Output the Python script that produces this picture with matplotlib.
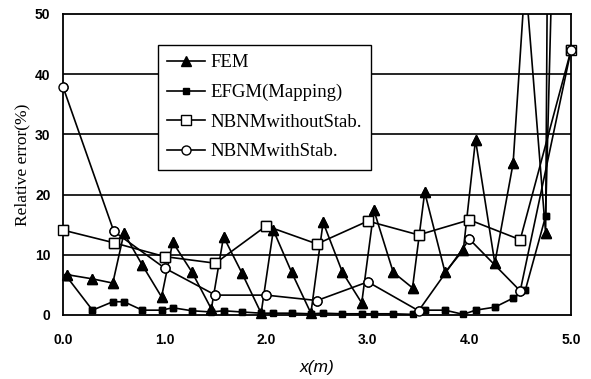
import numpy as np
import matplotlib
matplotlib.use('Agg')
import matplotlib.pyplot as plt


# Data: relative error (%) along x (m)
x_fine = [0.04, 0.29, 0.49, 0.60, 0.78, 0.97, 1.08, 1.27, 1.46, 1.58,
          1.76, 1.95, 2.07, 2.25, 2.44, 2.56, 2.75, 2.94, 3.06, 3.25,
          3.44, 3.56, 3.76, 3.94, 4.06, 4.25, 4.43, 4.55, 4.75]
fem = [6.7, 6.0, 5.3, 13.6, 8.3, 3.0, 12.1, 7.1, 1.0, 13.0,
       7.0, 0.3, 14.1, 7.1, 0.3, 15.4, 7.1, 2.0, 17.4, 7.1,
       4.5, 20.4, 7.1, 10.8, 29.1, 8.6, 25.2, 56.0, 13.6]
efgm = [6.3, 0.8, 2.2, 2.2, 0.8, 0.8, 1.2, 0.7, 0.5, 0.7,
        0.5, 0.3, 0.3, 0.3, 0.2, 0.3, 0.2, 0.2, 0.2, 0.2,
        0.1, 0.8, 0.8, 0.1, 0.8, 1.3, 2.8, 4.1, 16.4]
# last FEM / EFGM points run far above the plotted range
fem_x_end, fem_end = 4.78, 90.0
efgm_x_end, efgm_end = 4.84, 75.0

x_coarse = [0.0, 0.5, 1.0, 1.5, 2.0, 2.5, 3.0, 3.5, 4.0, 4.5, 5.0]
nbnm_nostab = [14.1, 12.0, 9.7, 8.6, 14.8, 11.8, 15.6, 13.3, 15.8, 12.5, 44.0]
nbnm_stab = [37.9, 13.9, 7.8, 3.3, 3.3, 2.4, 5.5, 0.7, 12.6, 4.0, 44.0]

labels = ['FEM', 'EFGM(Mapping)', 'NBNMwithoutStab.', 'NBNMwithStab.']
x_ticks = [0.0, 1.0, 2.0, 3.0, 4.0, 5.0]
y_ticks = [0, 10, 20, 30, 40, 50]

fig = plt.figure(figsize=(5.91, 3.79), dpi=100)
ax = fig.add_axes([0.1066, 0.1689, 0.8596, 0.7942])

series = [
    (x_fine + [fem_x_end], fem + [fem_end],
     dict(marker='^', markersize=7, mfc='black', mec='black')),
    (x_fine + [efgm_x_end], efgm + [efgm_end],
     dict(marker='s', markersize=5, mfc='black', mec='black')),
    (x_coarse, nbnm_nostab,
     dict(marker='s', markersize=6.5, mfc='white', mec='black', mew=1.0)),
    (x_coarse, nbnm_stab,
     dict(marker='o', markersize=6.5, mfc='white', mec='black', mew=1.0)),
]

handles = []
for (xs, ys, style), lab in zip(series, labels):
    xs = np.array(xs)
    ys = np.array(ys)
    h, = ax.plot(xs, ys, color='black', lw=1.2, label=lab, **style)
    handles.append(h)
    # markers on the frame edges stay whole
    keep = ys <= 50
    ax.plot(xs[keep], ys[keep], linestyle='none', clip_on=False, zorder=3, **style)

ax.set_xlim(0, 5)
ax.set_ylim(0, 50)
ax.set_xticks(x_ticks)
ax.set_yticks(y_ticks)
ax.set_xticklabels([f'{v:.1f}' for v in x_ticks])
ax.set_yticklabels([str(v) for v in y_ticks])
ax.tick_params(length=0)
ax.tick_params(axis='x', pad=13)
ax.tick_params(axis='y', pad=9)
for lbl in ax.get_xticklabels() + ax.get_yticklabels():
    lbl.set_fontfamily('Liberation Sans')
    lbl.set_fontweight('bold')
    lbl.set_fontsize(10)

for yv in y_ticks[1:-1]:
    ax.axhline(yv, color='black', lw=1.2, zorder=0)
for sp in ax.spines.values():
    sp.set_linewidth(1.3)

ax.set_ylabel('Relative error(%)', fontfamily='Liberation Serif', fontsize=12.5, labelpad=3)
ax.set_xlabel('x(m)', fontfamily='Liberation Sans', fontstyle='italic', fontsize=12.5, labelpad=9)

leg = ax.legend(handles=handles, loc='upper left', bbox_to_anchor=(0.187, 0.897),
                borderaxespad=0, fancybox=False, framealpha=1, edgecolor='black',
                prop={'family': 'Liberation Serif', 'size': 13.5},
                handlelength=2.0, handletextpad=0.3, labelspacing=0.66,
                borderpad=0.5, numpoints=1)
leg.get_frame().set_linewidth(1.0)

fig.savefig('out.png', dpi=100)
